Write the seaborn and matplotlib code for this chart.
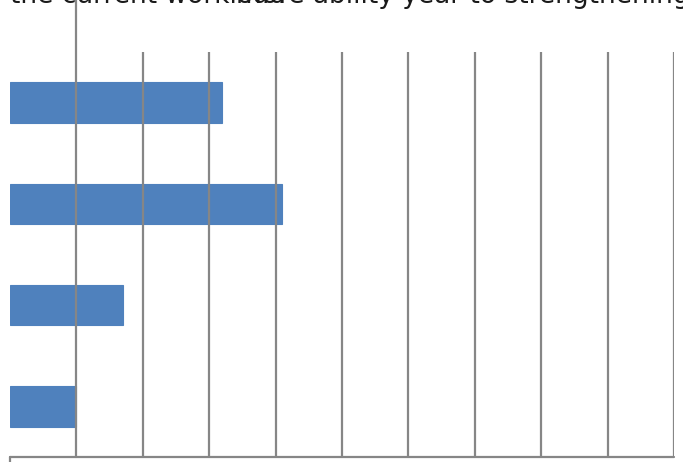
import matplotlib
matplotlib.use("Agg")
import matplotlib.pyplot as plt
import seaborn as sns
import pandas as pd

categories = ["A", "B", "C", "D"]
values = [3.2, 4.1, 1.7, 1.0]
grid_ticks = [1, 2, 3, 4, 5, 6, 7, 8, 9, 10]
title_a = "the current workload"
title_b = "more ability year to strengthening"

sns.set_theme(style="white")
plt.rcParams["font.family"] = ["DejaVu Sans"]

df = pd.DataFrame({"cat": categories, "val": values})

W, H = 683, 462
fig = plt.figure(figsize=(W / 100, H / 100), dpi=100)
ax = fig.add_axes([10 / W, (H - 457) / H, (674 - 10) / W, (457 - 52) / H])

sns.barplot(data=df, x="val", y="cat", orient="h", color="#4F81BD",
            saturation=1, width=0.40, ax=ax, zorder=2,
            edgecolor="#4F81BD", linewidth=0.8)
ax.set_xlim(0, 10)
ax.set_ylim(3.5, -0.5)

gc = "#868686"
for t in grid_ticks:
    if t == 1:
        ax.axvline(t, ymin=0, ymax=457 / 405, color=gc, lw=1.6, clip_on=False, zorder=4)
    else:
        ax.axvline(t, color=gc, lw=1.6, zorder=4)
ax.axhline(3.5, color=gc, lw=1.6, clip_on=False, zorder=4)
ax.plot([0, 0], [3.5, 3.5 + 5 / 101.25], color=gc, lw=1.6, clip_on=False, zorder=4)

for s in ax.spines.values():
    s.set_visible(False)
ax.set_xticks([])
ax.set_yticks([])
ax.set_xlabel("")
ax.set_ylabel("")

fig.text(10 / W, 1 - 3 / H, title_a, fontsize=19, color="#1a1a1a", va="baseline", ha="left")
fig.text(236 / W, 1 - 3 / H, title_b, fontsize=19, color="#1a1a1a", va="baseline", ha="left")

fig.savefig("out.png", dpi=100)
